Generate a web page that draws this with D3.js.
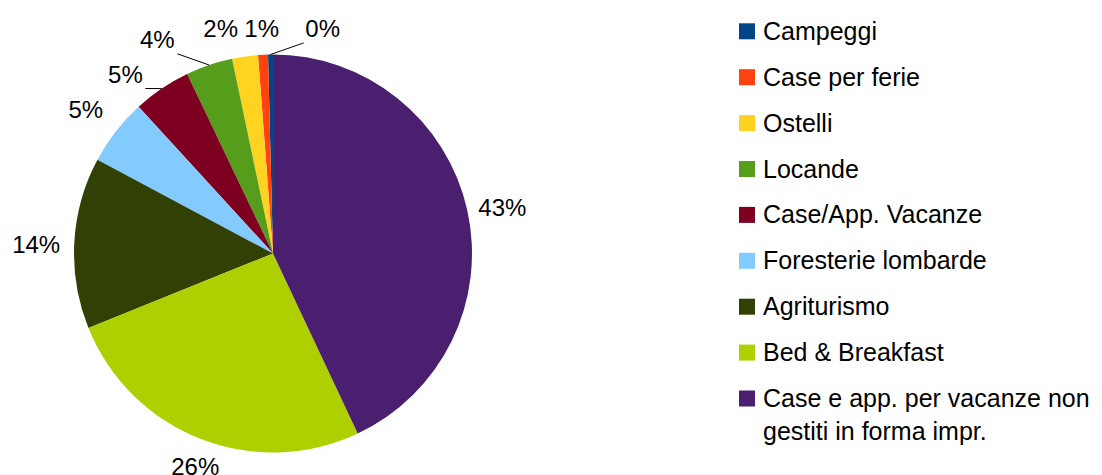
<!DOCTYPE html>
<html>
<head>
<meta charset="utf-8">
<script src="https://cdn.jsdelivr.net/npm/d3@7"></script>
<style>
  html, body { margin: 0; padding: 0; background: #fff; }
  svg { display: block; font-family: "Liberation Sans", Arial, sans-serif; }
</style>
</head>
<body>
<svg id="chart" width="1102" height="475"></svg>
<script>
// ---- data ----
const categories = [
  "Campeggi",
  "Case per ferie",
  "Ostelli",
  "Locande",
  "Case/App. Vacanze",
  "Foresterie lombarde",
  "Agriturismo",
  "Bed & Breakfast",
  "Case e app. per vacanze non gestiti in forma impr."
];
const values = [0.4, 0.8, 2.1, 3.8, 4.7, 5.4, 13.9, 25.9, 43.0];
const colors = ["#004586", "#ff420e", "#ffd320", "#579d1c", "#7e0021", "#83caff", "#314004", "#aecf00", "#4b1f6f"];
const legendLines = [
  ["Campeggi"], ["Case per ferie"], ["Ostelli"], ["Locande"], ["Case/App. Vacanze"],
  ["Foresterie lombarde"], ["Agriturismo"], ["Bed & Breakfast"],
  ["Case e app. per vacanze non", "gestiti in forma impr."]
];

// ---- layout (label placement tweaks, degrees / px) ----
const labelAngleShift = [13.2, 0, -5, -9.7, -5.5, -0.3, -0.9, -1.4, 1.2];
const labelRadius     = [230, 225, 231, 243, 232, 236, 237, 227, 234];
const labelLeader     = [true, false, false, true, true, false, false, false, false];

const svg = d3.select("#chart");
const cx = 273, cy = 253.5, R = 199;

const total = d3.sum(values);
const pie = d3.pie().sort(null).value(d => d).startAngle(0).endAngle(-2 * Math.PI);
const arcs = pie(values);
const arc = d3.arc().innerRadius(0).outerRadius(R);

const g = svg.append("g").attr("transform", `translate(${cx},${cy})`);

g.selectAll("path.slice")
  .data(arcs)
  .join("path")
  .attr("class", "slice")
  .attr("d", arc)
  .attr("fill", (d, i) => colors[i]);

const fmt = v => Math.round(v / total * 100) + "%";

arcs.forEach((d, i) => {
  const mid = (d.startAngle + d.endAngle) / 2;
  const a = mid + labelAngleShift[i] * Math.PI / 180;
  const lx = Math.sin(a) * labelRadius[i];
  const ly = -Math.cos(a) * labelRadius[i];
  g.append("text")
    .attr("x", lx)
    .attr("y", ly)
    .attr("text-anchor", "middle")
    .attr("dominant-baseline", "central")
    .attr("font-size", 24)
    .attr("fill", "#000")
    .text(fmt(d.value));
  if (labelLeader[i]) {
    const ex = Math.sin(mid) * R, ey = -Math.cos(mid) * R;
    const sx = lx + (ex > lx ? 20 : -19);
    const sy = ly + 14;
    g.append("line")
      .attr("x1", sx).attr("y1", sy)
      .attr("x2", ex).attr("y2", ey)
      .attr("stroke", "#000")
      .attr("stroke-width", 1);
  }
});

// ---- legend ----
const legend = svg.append("g").attr("transform", "translate(739,0)");
const baseY = 39.8, step = 45.9;
legendLines.forEach((lines, i) => {
  const y = baseY + i * step;
  legend.append("rect")
    .attr("x", 0).attr("y", y - 16.5)
    .attr("width", 16).attr("height", 16)
    .attr("fill", colors[i]);
  const t = legend.append("text")
    .attr("x", 24).attr("y", y)
    .attr("font-size", 25)
    .attr("fill", "#000");
  lines.forEach((ln, j) => {
    t.append("tspan").attr("x", 24).attr("y", y + j * 33).text(ln);
  });
});
</script>
</body>
</html>
